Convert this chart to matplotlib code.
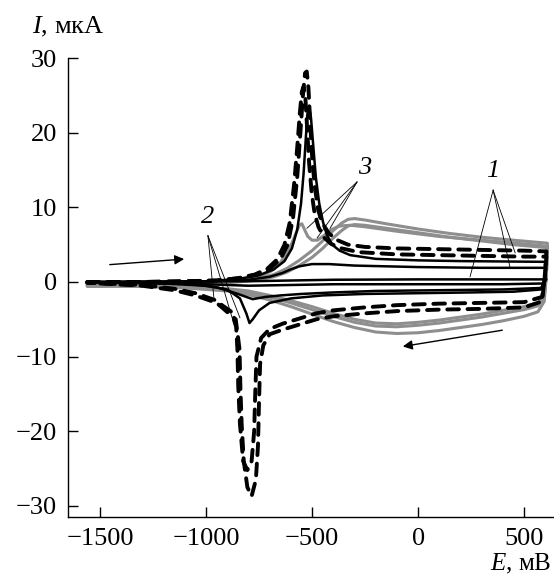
import matplotlib
matplotlib.use("Agg")
import matplotlib.pyplot as plt

plt.rcParams['font.family'] = ['Liberation Serif', 'DejaVu Serif']
plt.rcParams['mathtext.fontset'] = 'custom'
plt.rcParams['mathtext.it'] = 'Liberation Serif:italic'
plt.rcParams['mathtext.rm'] = 'Liberation Serif'

# ---- data (E in mV, I in uA), forward scan then reverse scan ----
# dashed black curves
d1_fwd_E = [-1560, -1300, -1100, -950, -850, -760, -700, -650, -615, -590, -570, -555, -543, -533,
            -525, -517, -508, -498, -486, -470, -450, -420, -380, -330, -250, -100, 100, 300, 500, 605]
d1_fwd_I = [0, 0, 0.1, 0.2, 0.5, 1.0, 1.8, 3.0, 5.0, 8.5, 14, 20, 25, 28, 28.2, 26, 21, 16, 12.5,
            9.5, 7.8, 6.5, 5.6, 5.0, 4.7, 4.5, 4.4, 4.3, 4.2, 4.1]
d1_rev_E = [605, 598, 585, 500, 300, 100, -100, -250, -400, -480, -560, -640, -700, -730, -745, -750,
            -755, -765, -785, -805, -822, -832, -838, -842, -860, -950, -1050, -1150, -1300, -1560]
d1_rev_I = [4.1, 1.0, -2.6, -3.4, -3.6, -3.7, -3.9, -4.2, -4.6, -5.0, -5.7, -6.4, -7.0, -8.5, -11,
            -16, -22, -26.5, -28.7, -27.5, -24, -19, -14, -9, -5.0, -2.8, -1.8, -1.1, -0.5, -0.1]

d2_fwd_E = [-1560, -1300, -1100, -950, -850, -770, -710, -665, -630, -605, -585, -570, -558, -548,
            -540, -532, -524, -514, -502, -488, -470, -445, -410, -360, -280, -100, 100, 300, 500, 605]
d2_fwd_I = [0, 0, 0.1, 0.2, 0.5, 1.0, 1.8, 3.0, 5.0, 8.0, 13, 18, 22.5, 25.5, 26.2, 25, 21, 16,
            12, 9.2, 7.4, 6.0, 5.1, 4.5, 4.0, 3.7, 3.6, 3.5, 3.4, 3.4]
d2_rev_E = [605, 598, 585, 500, 300, 100, -100, -250, -400, -480, -560, -640, -700, -740, -762, -768,
            -773, -785, -805, -825, -840, -848, -852, -858, -880, -960, -1050, -1150, -1300, -1560]
d2_rev_I = [3.4, 0.8, -2.0, -2.7, -2.8, -2.9, -3.1, -3.4, -3.8, -4.2, -4.9, -5.6, -6.3, -7.5, -10,
            -15, -20, -24, -25.2, -24, -19, -14, -9, -6, -4.0, -2.4, -1.5, -0.9, -0.4, -0.1]

# solid black curves
sp_fwd_E = [-1560, -1200, -1000, -850, -750, -680, -630, -595, -570, -552, -540, -530, -522, -514,
            -505, -495, -482, -466, -448, -430, -405, -370, -320, -200, 0, 200, 400, 605]
sp_fwd_I = [0, 0, 0.1, 0.4, 0.9, 1.7, 2.8, 4.5, 7, 10.5, 14.5, 19, 22.5, 23.6, 22, 18.5, 14, 10.5,
            8, 6.3, 5, 4.2, 3.6, 3.1, 2.9, 2.8, 2.75, 2.7]
sp_rev_E = [605, 598, 580, 450, 250, 0, -250, -450, -600, -700, -750, -780, -795, -810, -840, -900,
            -1000, -1200, -1560]
sp_rev_I = [2.7, 0.5, -1.0, -1.3, -1.4, -1.5, -1.6, -1.8, -2.2, -2.8, -3.8, -5.0, -5.5, -4.2, -2.2,
            -1.0, -0.5, -0.2, 0]

s2_fwd_E = [-1560, -1000, -800, -700, -640, -600, -560, -500, -420, -300, 0, 300, 605]
s2_fwd_I = [0, 0.1, 0.3, 0.7, 1.2, 1.7, 2.1, 2.4, 2.4, 2.2, 2.0, 1.9, 1.9]
s2_rev_E = [605, 598, 580, 400, 100, -200, -400, -550, -650, -720, -780, -850, -950, -1100, -1560]
s2_rev_I = [1.9, 0, -0.8, -1.0, -1.1, -1.2, -1.4, -1.6, -1.8, -2.0, -2.3, -1.6, -0.7, -0.2, 0]

s1_fwd_E = [-1560, -800, -600, -400, 0, 400, 605]
s1_fwd_I = [0, 0.1, 0.2, 0.3, 0.35, 0.35, 0.35]
s1_rev_E = [605, 590, 400, 0, -400, -600, -800, -1000, -1560]
s1_rev_I = [0.35, -0.2, -0.3, -0.3, -0.3, -0.4, -0.5, -0.3, 0]

# grey curves
g1_fwd_E = [-1560, -1200, -1000, -850, -750, -690, -650, -620, -595, -575, -560, -548, -535, -520,
            -500, -475, -445, -410, -370, -320, -250, -100, 100, 300, 500, 610]
g1_fwd_I = [-0.4, -0.3, -0.1, 0.2, 0.7, 1.5, 2.6, 3.8, 5.2, 6.6, 7.6, 7.8, 7.0, 6.1, 5.6, 5.6, 6.2,
            7.0, 7.5, 7.6, 7.4, 6.8, 6.1, 5.6, 5.1, 4.8]
g2_fwd_E = [-1560, -1200, -1000, -850, -750, -680, -620, -560, -500, -450, -400, -360, -330, -300,
            -250, -150, 0, 150, 300, 450, 610]
g2_fwd_I = [-0.5, -0.4, -0.2, 0.1, 0.5, 1.0, 1.8, 2.9, 4.2, 5.5, 6.9, 7.9, 8.4, 8.5, 8.3, 7.8, 7.1,
            6.5, 6.0, 5.6, 5.2]
g3_fwd_I = [-0.6, -0.5, -0.3, 0, 0.3, 0.7, 1.3, 2.2, 3.3, 4.5, 5.9, 6.9, 7.5, 7.7, 7.6, 7.2, 6.6,
            6.0, 5.5, 5.0, 4.6]
g_rev_E = [610, 605, 595, 565, 500, 400, 300, 200, 100, 0, -100, -200, -300, -400, -500, -600, -700,
           -800, -900, -1100, -1300, -1560]
g1_rev_I = [4.8, 1.0, -2.0, -3.2, -3.7, -4.2, -4.7, -5.1, -5.5, -5.8, -6.0, -5.9, -5.4, -4.6, -3.7,
            -2.8, -2.0, -1.4, -1.0, -0.7, -0.5, -0.4]
g2_rev_I = [5.2, 1.0, -2.6, -4.0, -4.6, -5.2, -5.7, -6.1, -6.5, -6.8, -6.9, -6.7, -6.1, -5.3, -4.3,
            -3.3, -2.4, -1.7, -1.2, -0.8, -0.6, -0.5]
g3_rev_I = [4.6, 0.8, -1.7, -2.8, -3.3, -3.8, -4.3, -4.7, -5.1, -5.4, -5.6, -5.5, -5.0, -4.2, -3.3,
            -2.5, -1.8, -1.2, -0.9, -0.6, -0.5, -0.4]

x_ticks = [-1500, -1000, -500, 0, 500]
y_ticks = [-30, -20, -10, 0, 10, 20, 30]

# ---- figure ----
fig = plt.figure(figsize=(5.54, 5.81), dpi=100)
ax = fig.add_axes([0.1227, 0.110, 0.8773, 0.790])

grey = '#8e8e8e'
for I_f, I_r, E_f in [(g1_fwd_I, g1_rev_I, g1_fwd_E), (g2_fwd_I, g2_rev_I, g2_fwd_E),
                      (g3_fwd_I, g3_rev_I, g2_fwd_E)]:
    ax.plot(E_f + g_rev_E, I_f + I_r, color=grey, lw=2.2, solid_capstyle='round')

for E_f, I_f, E_r, I_r in [(sp_fwd_E, sp_fwd_I, sp_rev_E, sp_rev_I),
                           (s2_fwd_E, s2_fwd_I, s2_rev_E, s2_rev_I),
                           (s1_fwd_E, s1_fwd_I, s1_rev_E, s1_rev_I)]:
    ax.plot(E_f + E_r, I_f + I_r, color='black', lw=1.8)

for E_f, I_f, E_r, I_r in [(d1_fwd_E, d1_fwd_I, d1_rev_E, d1_rev_I),
                           (d2_fwd_E, d2_fwd_I, d2_rev_E, d2_rev_I)]:
    ax.plot(E_f + E_r, I_f + I_r, color='black', lw=2.8, linestyle=(0, (3.0, 2.2)),
            dash_capstyle='round')

# curve labels with leader lines
lead = dict(color='black', lw=0.6)
for xe, ye in [(245, 0.7), (434, 1.9), (458, 3.9)]:
    ax.plot([354, xe], [12.3, ye], **lead)
for xe, ye in [(-962, -2.4), (-877, -4.8), (-840, -4.8)]:
    ax.plot([-991, xe], [6.2, ye], **lead)
for xe, ye in [(-524, 7.2), (-476, 5.9), (-415, 7.2)]:
    ax.plot([-288, xe], [13.4, ye], **lead)
ax.text(354, 13.4, '1', style='italic', fontsize=19, ha='center', va='bottom')
ax.text(-991, 7.2, '2', style='italic', fontsize=19, ha='center', va='bottom')
ax.text(-250, 13.8, '3', style='italic', fontsize=19, ha='center', va='bottom')

# scan direction arrows
arr = dict(arrowstyle='-|>', color='black', lw=1.0, mutation_scale=14)
ax.annotate('', xy=(-1090, 3.1), xytext=(-1467, 2.3), arrowprops=arr)
ax.annotate('', xy=(-85, -8.7), xytext=(410, -6.4), arrowprops=arr)

ax.set_xlim(-1651, 641)
ax.set_ylim(-31.5, 30)
ax.set_xticks(x_ticks)
ax.set_yticks(y_ticks)
ax.tick_params(direction='in', length=7, width=1, labelsize=19)
ax.tick_params(axis='x', pad=8)
ax.tick_params(axis='y', pad=8)
for s in ['top', 'right']:
    ax.spines[s].set_visible(False)
for s in ['left', 'bottom']:
    ax.spines[s].set_linewidth(1.0)

fig.text(0.058, 0.954, r'$I$, мкА', fontsize=19, ha='left', va='center')
fig.text(0.995, 0.008, r'$E$, мВ', fontsize=18, ha='right', va='bottom')

fig.savefig('out.png', dpi=100)
